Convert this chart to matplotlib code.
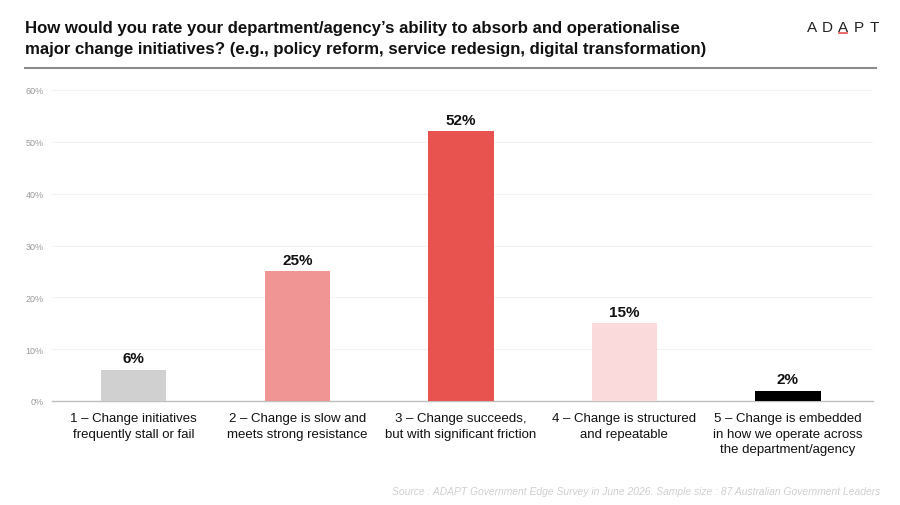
import matplotlib.pyplot as plt
from matplotlib.lines import Line2D

categories = [
    "1 – Change initiatives\nfrequently stall or fail",
    "2 – Change is slow and\nmeets strong resistance",
    "3 – Change succeeds,\nbut with significant friction",
    "4 – Change is structured\nand repeatable",
    "5 – Change is embedded\nin how we operate across\nthe department/agency",
]
values = [6, 25, 52, 15, 2]
colors = ["#D0D0D0", "#F09494", "#E8524F", "#FADADB", "#000000"]
yticks = [0, 10, 20, 30, 40, 50, 60]

plt.rcParams['font.family'] = ['Liberation Sans', 'DejaVu Sans']

fig = plt.figure(figsize=(9, 5.06), dpi=100)
ax = fig.add_axes([52 / 900, 1 - 402 / 506, (873 - 52) / 900, (402 - 91) / 506])

x = list(range(len(values)))
bars = ax.bar(x, values, width=0.4, color=colors, zorder=3)
for b, v in zip(bars, values):
    ax.text(b.get_x() + b.get_width() / 2, v + 0.9, f"{v}%", ha='center', va='bottom',
            fontsize=11, fontweight='bold', color='#111111')

ax.set_xlim(-0.5, 4.52)
ax.set_ylim(0, 60)
ax.set_yticks(yticks)
ax.set_yticklabels([f"{t}%" for t in yticks], fontsize=6.5, color='#9A9A9A')
ax.set_xticks(x)
ax.set_xticklabels(categories, fontsize=9.5, color='#111111', linespacing=1.4)
ax.tick_params(axis='both', length=0)
ax.tick_params(axis='y', pad=6)
ax.tick_params(axis='x', pad=8)
ax.grid(axis='y', color='#F2F2F2', linewidth=0.8, zorder=0)
for s in ['top', 'right', 'left']:
    ax.spines[s].set_visible(False)
ax.spines['bottom'].set_color('#BFBFBF')
ax.spines['bottom'].set_linewidth(1)

fig.text(25 / 900, 1 - 39 / 506,
         "How would you rate your department/agency’s ability to absorb and operationalise\n"
         "major change initiatives? (e.g., policy reform, service redesign, digital transformation)",
         fontsize=12.1, fontweight='bold', color='#111111', ha='left', va='center', linespacing=1.45)

fig.add_artist(Line2D([25 / 900, 876 / 900], [1 - 69 / 506, 1 - 69 / 506],
                      color='#8C8C8C', linewidth=1.5, transform=fig.transFigure))

# logo
logo = ["A", "D", "A", "P", "T"]
lx0 = 812
for i, ch in enumerate(logo):
    fig.text((lx0 + i * 15.5) / 900, 1 - 28 / 506, ch, fontsize=11, color='#222222',
             ha='center', va='center')
fig.add_artist(Line2D([(lx0 + 2 * 15.5 - 4) / 900, (lx0 + 2 * 15.5 + 4) / 900],
                      [1 - 34 / 506, 1 - 34 / 506], color='#E8524F', linewidth=1.2,
                      transform=fig.transFigure))

fig.text(880 / 900, 1 - 492 / 506,
         "Source : ADAPT Government Edge Survey in June 2026. Sample size : 87 Australian Government Leaders",
         fontsize=7.4, style='italic', color='#CFCFCF', ha='right', va='center')

fig.savefig("out.png", dpi=100)
